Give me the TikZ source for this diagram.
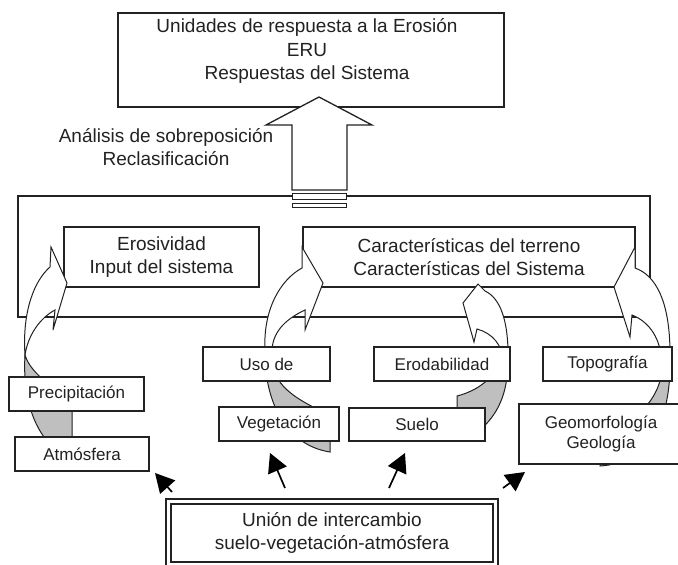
\documentclass[tikz,border=0pt]{standalone}
\usepackage{fontspec}
\setmainfont{Liberation Sans}
\usetikzlibrary{arrows.meta}
\definecolor{ink}{HTML}{222222}
\begin{document}
\begin{tikzpicture}[x=1pt,y=-1pt,
  box/.style={draw=ink, line width=1.3pt, fill=white, inner sep=0pt, text=ink, align=center},
  frame/.style={draw=ink, line width=1.3pt, inner sep=0pt},
  big/.style={font=\fontsize{19}{23.5}\selectfont, text=ink, align=center},
  small/.style={font=\fontsize{17}{19.5}\selectfont, text=ink, align=center},
  band/.style={draw=ink, line width=1pt, fill=white, line join=miter},
  back/.style={draw=ink, line width=1pt, fill=gray!50},
  dart/.style={draw=black, line width=1.7pt, -{Triangle[length=19pt,width=20pt]}},
]
\useasboundingbox (0,0) rectangle (678,565);

% outer frame
\node[frame, minimum width=632pt, minimum height=121pt] (outer) at (334,256.5) {};

% top box
\node[box, minimum width=386pt, minimum height=94pt] (top) at (311,60) {};
\node[big] (toptext) at (307,51) {Unidades de respuesta a la Erosión\\ERU\\Respuestas del Sistema};

% main boxes
\node[box, big, minimum width=195pt, minimum height=60pt] (ero) at (161.5,257) {Erosividad\\Input del sistema};
\node[box, big, minimum width=332pt, minimum height=60pt] (car) at (469,257) {Características del terreno\\Características del Sistema};

% big up arrow and connector bars
\draw[band, line width=1.3pt] (292,190) -- (292,125) -- (266,125) -- (319,97) -- (372,125) -- (347,125) -- (347,190) -- cycle;
\node[box, line width=1pt, minimum width=54pt, minimum height=6pt] (bar1) at (319,196) {};
\node[box, line width=1pt, minimum width=54pt, minimum height=4pt] (bar2) at (319,205) {};

\node[big] (ana) at (166,147) {Análisis de sobreposición\\Reclasificación};

% curved arrows: back faces
\draw[back] (25,355) .. controls (23,390) and (30,420) .. (47,441) -- (72,441) -- (72,405) .. controls (58,388) and (32,377) .. (25,355) -- cycle;
\draw[back] (265,350) .. controls (264,400) and (285,445) .. (330,452) -- (330,415) .. controls (285,395) and (270,380) .. (272,350) -- cycle;
\draw[back] (457,410) -- (457,396) .. controls (477,391) and (495,378) .. (500,360) -- (508,360) .. controls (508,395) and (497,415) .. (480,430) -- cycle;
\draw[back] (670,360) .. controls (671,420) and (650,463) .. (600,466) -- (600,452) .. controls (625,440) and (642,420) .. (648,404) .. controls (655,395) and (664,380) .. (661,360) -- cycle;

% curved arrows: front faces
\draw[band] (25,355) .. controls (22,310) and (35,280) .. (50,267) -- (51,247) -- (67,283) -- (53,330) -- (55,310) .. controls (40,318) and (28,335) .. (25,355) -- cycle;
\draw[band] (265,350) .. controls (263,310) and (280,280) .. (302,268) -- (302,247) -- (323,283) -- (305,330) -- (305,310) .. controls (288,318) and (273,330) .. (272,350) -- cycle;
\draw[band] (485,291) .. controls (500,298) and (509,320) .. (508,362) -- (503,362) .. controls (503,345) and (492,333) .. (477,329) -- (474,342) -- (463,303) -- (478,284) -- cycle;
\draw[band] (635,268) .. controls (655,275) and (671,300) .. (670,360) -- (661,360) .. controls (661,340) and (650,322) .. (632,315) -- (630,337) -- (614,287) -- (635,247) -- cycle;

% small boxes
\node[box, small, minimum width=135pt, minimum height=34pt] (prec) at (76.5,394) {Precipitación};
\node[box, small, minimum width=134pt, minimum height=34pt] (atm) at (82,454) {Atmósfera};
\node[box, small, minimum width=127pt, minimum height=34pt] (uso) at (266.5,364) {Uso de};
\node[box, small, minimum width=120pt, minimum height=34pt] (veg) at (279,424) {Vegetación};
\node[box, small, minimum width=136pt, minimum height=34pt] (erod) at (442,364) {Erodabilidad};
\node[box, small, minimum width=136pt, minimum height=33pt] (suelo) at (417,424.5) {Suelo};
\node[box, small, minimum width=129pt, minimum height=34pt] (topo) at (607.5,364) {Topografía};
\node[box, small, minimum width=164pt, minimum height=60pt] (geo) at (601,434) {Geomorfología\\Geología};

% bottom double box
\node[box, minimum width=332pt, minimum height=68pt] (union) at (332,533) {};
\node[box, big, minimum width=322pt, minimum height=58pt] (unioninner) at (332,533) {Unión de intercambio\\suelo-vegetación-atmósfera};

% straight arrows
\coordinate (a1s) at (172,492); \coordinate (a1e) at (155,473);
\coordinate (a2s) at (285,488); \coordinate (a2e) at (270,453);
\coordinate (a3s) at (389,488); \coordinate (a3e) at (405,453);
\coordinate (a4s) at (503,488); \coordinate (a4e) at (525,472);
\draw[dart] (a1s) -- (a1e);
\draw[dart] (a2s) -- (a2e);
\draw[dart] (a3s) -- (a3e);
\draw[dart] (a4s) -- (a4e);
\end{tikzpicture}
\end{document}
